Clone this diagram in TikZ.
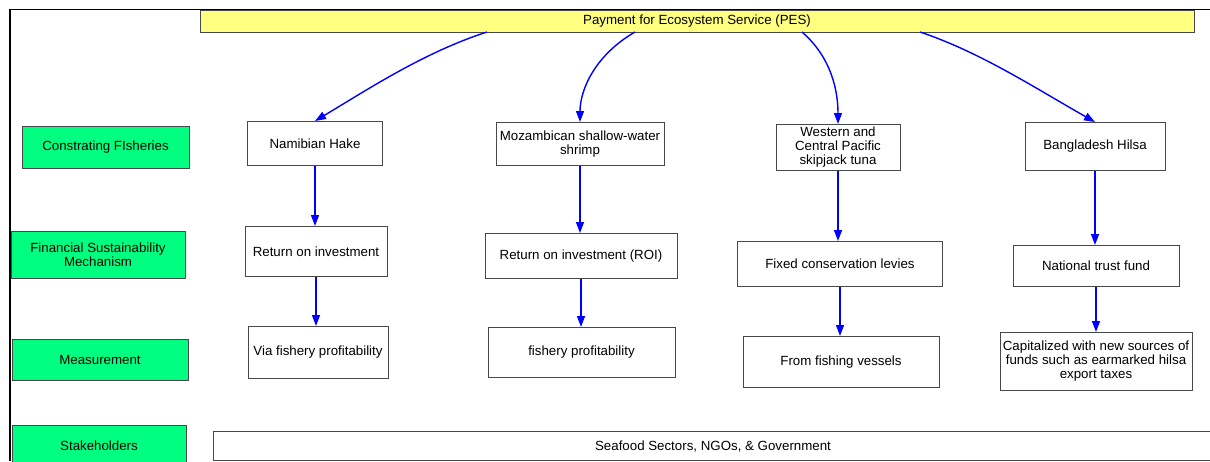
\documentclass[tikz,border=0pt]{standalone}
\usepackage{fontspec}
\setmainfont{Liberation Sans}
\usepackage{tikz}
\usetikzlibrary{arrows.meta, positioning}

\definecolor{pesyellow}{HTML}{FFFF80}
\definecolor{rowgreen}{HTML}{00FF80}
\definecolor{boxedge}{HTML}{484848}

\begin{document}
\begin{tikzpicture}[
			x=1pt, y=-1pt,
			every node/.style={font=\fontsize{13.3}{14}\selectfont},
			cell/.style={
				rectangle, draw=boxedge, line width=1pt, fill=white,
				align=center, inner sep=2pt
			},
			rowhead/.style={
				cell, fill=rowgreen
			},
			flow/.style={
				-{Triangle[length=11pt,width=8pt]},
				draw=blue, line width=1.4pt
			}
			]
			\useasboundingbox (0,0) rectangle (1210,461);
			
			% frame
			\draw[line width=1.8pt] (10,461) -- (10,9.5) -- (1210,9.5);
			
			% top
			\node[cell, fill=pesyellow, minimum width=994, minimum height=22] (pes) at (697,21) {Payment for Ecosystem Service (PES)};
			
			% row headings
			\node[rowhead, minimum width=167, minimum height=42] (fish) at (105.5,147.5) {Constrating FIsheries};
			\node[rowhead, minimum width=174, minimum height=47] (mech) at (98,255) {Financial Sustainability\\Mechanism};
			\node[rowhead, minimum width=176, minimum height=41] (meas) at (100,360) {Measurement};
			\node[rowhead, minimum width=174, minimum height=40] (stake) at (99,445.5) {Stakeholders};
			
			% Namibian hake
			\node[cell, minimum width=135, minimum height=44] (hake) at (315,143.5) {Namibian Hake};
			\node[cell, minimum width=142, minimum height=50] (hakefin) at (316,251.5) {Return on investment};
			\node[cell, minimum width=140, minimum height=52] (hakemeas) at (318,352.5) {Via fishery profitability};
			
			% Mozambican shrimp
			\node[cell, minimum width=168, minimum height=43] (shrimp) at (580,144) {Mozambican shallow-water\\shrimp};
			\node[cell, minimum width=192, minimum height=45] (shrimpfin) at (581,256) {Return on investment (ROI)};
			\node[cell, minimum width=187, minimum height=50] (shrimpmeas) at (581.5,352.5) {fishery profitability};
			
			% skipjack tuna
			\node[cell, minimum width=124, minimum height=46] (tuna) at (838,147.5) {Western and\\Central Pacific\\skipjack tuna};
			\node[cell, minimum width=205, minimum height=45] (tunafin) at (840,264) {Fixed conservation levies};
			\node[cell, minimum width=196, minimum height=51] (tunameas) at (841,362) {From fishing vessels};
			
			% Bangladesh hilsa
			\node[cell, minimum width=140, minimum height=48] (hilsa) at (1095,146.5) {Bangladesh Hilsa};
			\node[cell, minimum width=166, minimum height=41] (hilsafin) at (1096,266) {National trust fund};
			\node[cell, minimum width=192, minimum height=58] (hilsameas) at (1096,361.5) {Capitalized with new sources of\\funds such as earmarked hilsa\\export taxes};
			
			% stakeholders
			\node[cell, minimum width=1000, minimum height=29, anchor=west] (actors) at (213,446) {};
			\node at (713,446.5) {Seafood Sectors, NGOs, \& Government};
			
			% branches from PES
			\coordinate (b1) at (487,32);
			\coordinate (b2) at (635,32);
			\coordinate (b3) at (802,32);
			\coordinate (b4) at (920,32);
			\draw[flow] (b1) .. controls (425,52) and (370,88) .. (hake.north);
			\draw[flow] (b2) .. controls (595,55) and (580,90) .. (shrimp.north);
			\draw[flow] (b3) .. controls (832,58) and (838,92) .. (tuna.north);
			\draw[flow] (b4) .. controls (980,52) and (1035,88) .. (hilsa.north);
			
			% columns
			\draw[flow] (hake.south) -- (hake.south |- hakefin.north);
			\draw[flow] (hakefin.south) -- (hakefin.south |- hakemeas.north);
			\draw[flow] (shrimp.south) -- (shrimp.south |- shrimpfin.north);
			\draw[flow] (shrimpfin.south) -- (shrimpfin.south |- shrimpmeas.north);
			\draw[flow] (tuna.south) -- (tuna.south |- tunafin.north);
			\draw[flow] (tunafin.south) -- (tunafin.south |- tunameas.north);
			\draw[flow] (hilsa.south) -- (hilsa.south |- hilsafin.north);
			\draw[flow] (hilsafin.south) -- (hilsafin.south |- hilsameas.north);
		\end{tikzpicture}
\end{document}
